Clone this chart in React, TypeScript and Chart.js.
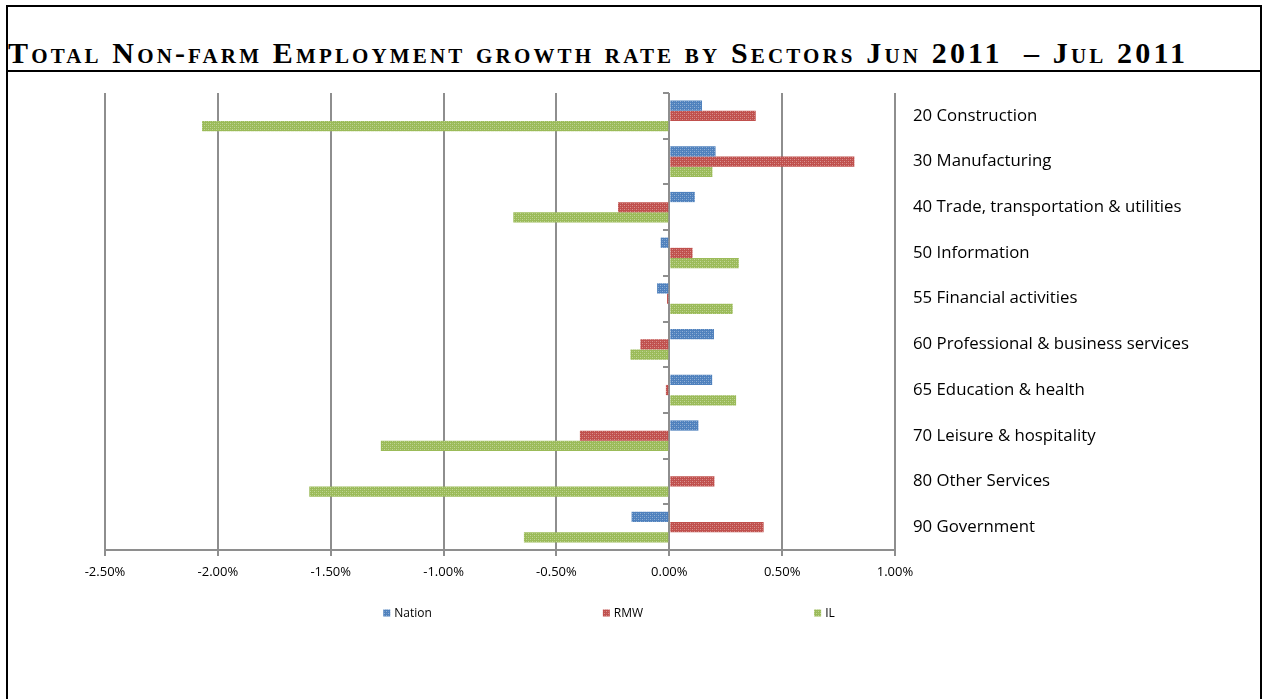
import React, { useEffect, useRef } from 'react';
import { Chart, registerables } from 'chart.js';

Chart.register(...registerables);

const title = 'Total Non-farm Employment growth rate by Sectors Jun 2011  \u2013 Jul 2011';
const categories = [
  '20 Construction',
  '30 Manufacturing',
  '40 Trade, transportation & utilities',
  '50 Information',
  '55 Financial activities',
  '60 Professional & business services',
  '65 Education & health',
  '70 Leisure & hospitality',
  '80 Other Services',
  '90 Government',
];
const nation = [0.145, 0.205, 0.113, -0.038, -0.054, 0.198, 0.19, 0.129, 0, -0.167];
const rmw = [0.383, 0.82, -0.227, 0.103, -0.01, -0.128, -0.015, -0.396, 0.2, 0.418];
const il = [-2.07, 0.191, -0.691, 0.308, 0.281, -0.172, 0.296, -1.278, -1.595, -0.644];
const seriesNames = ['Nation', 'RMW', 'IL'];
const seriesColors = ['#4F81BD', '#C0504D', '#9BBB59'];
const xMin = -2.5;
const xMax = 1.0;
const xStep = 0.5;

const GRID = '#8e8e8e';
const CANVAS_TOP = 73;
const LEGEND_CX = 609;
const LEGEND_CY = 613 - CANVAS_TOP;
const LEGEND_GAP = 171;

function makePattern(color: string): CanvasPattern | string {
  const c = document.createElement('canvas');
  c.width = 4;
  c.height = 4;
  const g = c.getContext('2d');
  if (!g) return color;
  g.fillStyle = color;
  g.fillRect(0, 0, 4, 4);
  g.fillStyle = 'rgba(255,255,255,0.38)';
  g.fillRect(0, 0, 1, 1);
  g.fillRect(2, 2, 1, 1);
  g.fillStyle = 'rgba(255,255,255,0.18)';
  g.fillRect(2, 0, 1, 1);
  g.fillRect(0, 2, 1, 1);
  const p = g.createPattern(c, 'repeat');
  return p || color;
}

const extrasPlugin = {
  id: 'extras',
  afterDraw(chart: any) {
    const { ctx, scales } = chart;
    const x = scales.x;
    const y = scales.y;
    // tick marks on the zero axis at category boundaries
    const x0 = Math.round(x.getPixelForValue(0));
    const step = y.getPixelForValue(1) - y.getPixelForValue(0);
    ctx.save();
    ctx.strokeStyle = GRID;
    ctx.lineWidth = 2;
    for (let i = 0; i <= categories.length; i++) {
      const py = Math.round(y.getPixelForValue(i) - step / 2);
      ctx.beginPath();
      ctx.moveTo(x0 - 6, py);
      ctx.lineTo(x0, py);
      ctx.stroke();
    }
    ctx.restore();

    // legend
    ctx.save();
    ctx.font = '12px "Open Sans"';
    ctx.textBaseline = 'middle';
    ctx.textAlign = 'left';
    const box = 7;
    const items = chart.data.datasets.map((ds: any, i: number) => ({
      text: ds.label as string,
      fill: ds.backgroundColor,
      w: box + 4 + ctx.measureText(ds.label).width,
    }));
    const total = items.reduce((s: number, it: any) => s + it.w, 0) + LEGEND_GAP * (items.length - 1);
    let cx = LEGEND_CX - total / 2;
    items.forEach((it: any) => {
      ctx.fillStyle = it.fill;
      ctx.fillRect(cx, LEGEND_CY - box / 2, box, box);
      ctx.fillStyle = '#000';
      ctx.fillText(it.text, cx + box + 4, LEGEND_CY + 1);
      cx += it.w + LEGEND_GAP;
    });
    ctx.restore();
  },
};

export default function App() {
  const ref = useRef<HTMLCanvasElement | null>(null);

  useEffect(() => {
    if (!ref.current) return;
    const series = [nation, rmw, il];
    const chart = new Chart(ref.current, {
      type: 'bar',
      data: {
        labels: categories,
        datasets: series.map((d, i) => ({
          label: seriesNames[i],
          data: d,
          backgroundColor: makePattern(seriesColors[i]) as any,
          borderWidth: 0,
          barPercentage: 1,
          categoryPercentage: 0.672,
        })),
      },
      options: {
        indexAxis: 'y',
        animation: false,
        responsive: false,
        maintainAspectRatio: false,
        events: [],
        layout: { padding: { left: 105, right: 0, top: 20, bottom: 109 } },
        plugins: {
          legend: { display: false },
          tooltip: { enabled: false },
          title: { display: false },
        },
        scales: {
          x: {
            type: 'linear',
            min: xMin,
            max: xMax,
            position: 'bottom',
            afterFit: (s: any) => {
              s.height = 40;
              s.paddingLeft = 0;
              s.paddingRight = 0;
            },
            ticks: {
              stepSize: xStep,
              color: '#000',
              padding: 8,
              font: { family: '"Open Sans"', size: 13 },
              callback: (v: any) => Number(v).toFixed(2) + '%',
            },
            grid: {
              color: GRID,
              lineWidth: 2,
              tickLength: 6,
              drawTicks: true,
            },
            border: { display: true, color: GRID, width: 2 },
          },
          y: {
            type: 'category',
            position: 'right',
            offset: true,
            afterFit: (s: any) => {
              s.width = 1266 - 895;
              s.paddingTop = 0;
              s.paddingBottom = 0;
            },
            grid: { display: false, drawTicks: false },
            border: { display: false },
            ticks: {
              color: '#000',
              padding: 18,
              crossAlign: 'near',
              font: { family: '"Open Sans"', size: 16.8 },
            },
          },
        },
      },
      plugins: [extrasPlugin],
    });
    return () => chart.destroy();
  }, []);

  return (
    <div
      style={{
        position: 'fixed',
        left: 0,
        top: 0,
        width: 1266,
        height: 699,
        overflow: 'hidden',
        background: '#fff',
      }}
    >
      <div
        style={{
          position: 'absolute',
          left: 6,
          top: 5,
          width: 1252,
          height: 800,
          border: '2px solid #000',
        }}
      />
      <div
        style={{
          position: 'absolute',
          left: 6,
          top: 70,
          width: 1256,
          height: 2,
          background: '#000',
        }}
      />
      <div
        style={{
          position: 'absolute',
          left: 8,
          top: 38,
          fontFamily: '"Liberation Serif", serif',
          fontWeight: 'bold',
          fontVariant: 'small-caps',
          fontSize: 30,
          letterSpacing: '3.15px',
          lineHeight: '30px',
          whiteSpace: 'pre',
          color: '#000',
        }}
      >
        {title}
      </div>
      <canvas
        ref={ref}
        width={1266}
        height={699 - CANVAS_TOP}
        style={{ position: 'absolute', left: 0, top: CANVAS_TOP, width: 1266, height: 699 - CANVAS_TOP }}
      />
    </div>
  );
}
